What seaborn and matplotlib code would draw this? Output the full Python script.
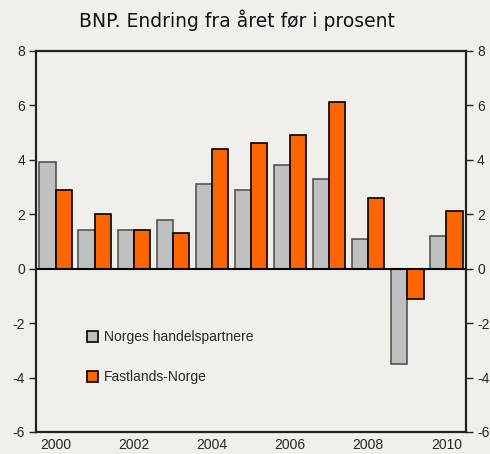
import pandas as pd
import matplotlib.pyplot as plt
import seaborn as sns
import numpy as np

# Data
years = [2000, 2001, 2002, 2003, 2004, 2005, 2006, 2007, 2008, 2009, 2010]
handelspartnere = [3.9, 1.4, 1.4, 1.8, 3.1, 2.9, 3.8, 3.3, 1.1, -3.5, 1.2]
fastlands = [2.9, 2.0, 1.4, 1.3, 4.4, 4.6, 4.9, 6.1, 2.6, -1.1, 2.1]
serie_navn = ['Norges handelspartnere', 'Fastlands-Norge']

df = pd.DataFrame({
    'aar': years * 2,
    'verdi': handelspartnere + fastlands,
    'serie': [serie_navn[0]] * len(years) + [serie_navn[1]] * len(years),
})

bg = '#f0efe9'
sns.set_style('white')
plt.rcParams['font.family'] = ['Liberation Sans', 'DejaVu Sans']
plt.rcParams['axes.unicode_minus'] = False

fig = plt.figure(figsize=(4.9, 4.54), dpi=100, facecolor=bg)
ax = fig.add_axes([0.0735, 0.0485, 0.8775, 0.84])
ax.set_facecolor(bg)

sns.barplot(data=df, x='aar', y='verdi', hue='serie', hue_order=serie_navn,
            palette=['#c0c0c0', '#ff6600'], saturation=1, width=0.83, gap=0,
            edgecolor='black', linewidth=1.2, ax=ax)

for bar, col in zip(ax.patches, ['#555555'] * 11 + ['black'] * 11):
    bar.set_edgecolor(col)

ax.axhline(0, color='black', lw=1.5, zorder=3)
ax.set_xlim(-0.5, 10.5)
ax.set_ylim(-6, 8)
ax.set_yticks(np.arange(-6, 9, 2))
ax.set_xticks(range(0, 11, 2))
ax.set_xticklabels([str(y) for y in years[::2]], fontsize=10)
ax.set_xticks(np.arange(-0.5, 11, 1), minor=True)
ax.tick_params(axis='x', which='major', length=0, pad=4)
ax.tick_params(axis='x', which='minor', direction='in', length=5, width=1, color='#222222')
ax.tick_params(axis='y', left=True, right=True, labelleft=True, labelright=True,
               direction='out', length=5, width=1, color='#222222', labelsize=10, pad=3)
ax.set_xlabel('')
ax.set_ylabel('')

for s in ax.spines.values():
    s.set_visible(True)
    s.set_color('#222222')
    s.set_linewidth(1.6)

ax.legend(loc='upper left', bbox_to_anchor=(0.09, 0.30), frameon=False,
          fontsize=10, labelspacing=1.9, handlelength=0.8, handleheight=0.8,
          handletextpad=0.4)

fig.text(0.483, 0.955, 'BNP. Endring fra året før i prosent', ha='center', va='center',
         fontsize=13.5, family='DejaVu Sans', color='#111111')

fig.savefig('out.png', dpi=100, facecolor=bg)
